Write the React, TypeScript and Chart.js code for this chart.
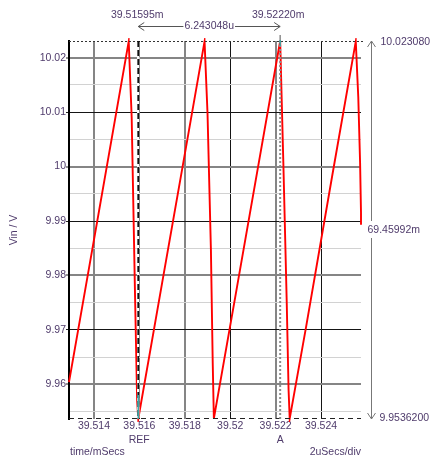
import React, { useEffect, useRef } from 'react';
import { Chart, registerables } from 'chart.js';

Chart.register(...registerables);

// ---- data (time in ms, Vin in V) ----
const timeMs = [
  39.5129, 39.5142, 39.51553, 39.51566, 39.51581, 39.5159, 39.51595,
  39.517, 39.518, 39.51887, 39.519, 39.51915, 39.51923, 39.51928,
  39.5203, 39.5213, 39.5222, 39.52234, 39.52249, 39.52257, 39.52262,
  39.52334, 39.5245, 39.52553, 39.52564, 39.52572, 39.52576, 39.52576,
];
const vin = [
  9.9604, 9.9913, 10.0230, 10.0091, 9.9760, 9.9571, 9.95362,
  9.9786, 10.0023, 10.0230, 10.0099, 9.9847, 9.9639, 9.9537,
  9.9779, 10.0017, 10.02308, 10.0007, 9.9749, 9.9590, 9.9537,
  9.9705, 9.9985, 10.0230, 10.0128, 10.0007, 9.9915, 9.9893,
];

const xRange = [39.5129, 39.52576];
const yRange = [9.95362, 10.02308];

const xTickValues = [39.514, 39.516, 39.518, 39.52, 39.522, 39.524];
const xTickLabels = ['39.514', '39.516', '39.518', '39.52', '39.522', '39.524'];
const yMajorValues = [9.96, 9.97, 9.98, 9.99, 10, 10.01, 10.02];
const yMajorLabels = ['9.96', '9.97', '9.98', '9.99', '10', '10.01', '10.02'];
const yMinorValues = [9.955, 9.965, 9.975, 9.985, 9.995, 10.005, 10.015];

const cursorRefTime = 39.51595;
const cursorATime = 39.5222;
const cursorAValue = 10.02308;
const cursorRefValue = 9.95362;

const refTimeLabel = '39.51595m';
const aTimeLabel = '39.52220m';
const deltaTimeLabel = '6.243048u';
const topValueLabel = '10.023080';
const bottomValueLabel = '9.9536200';
const deltaValueLabel = '69.45992m';
const refName = 'REF';
const aName = 'A';
const xTitle = 'time/mSecs';
const xDivLabel = '2uSecs/div';
const yTitle = 'Vin / V';

const TEXT = '#4f3b6b';
const FONT = 'Liberation Sans, Arial, sans-serif';
const GREY = '#858585';
const BLACK = '#151515';
const LIGHT = '#d2d2d2';

const near = (a: number, b: number) => Math.abs(a - b) < 1e-6;
const isMajorY = (v: number) => yMajorValues.some((m) => near(m, v));
const yTickValues = [...yMinorValues, ...yMajorValues].sort((a, b) => a - b);

function arrowHead(ctx: CanvasRenderingContext2D, x: number, y: number, dx: number, dy: number) {
  const len = 6, w = 4;
  const px = -dy, py = dx;
  ctx.beginPath();
  ctx.moveTo(x - dx * len + px * w, y - dy * len + py * w);
  ctx.lineTo(x, y);
  ctx.lineTo(x - dx * len - px * w, y - dy * len - py * w);
  ctx.stroke();
}

const annotations = {
  id: 'annotations',
  afterDatasetsDraw(chart: any) {
    const { ctx, chartArea, scales } = chart;
    const xs = scales.x, ys = scales.y;
    const xRef = xs.getPixelForValue(cursorRefTime);
    const xA = xs.getPixelForValue(cursorATime);
    const yTop = ys.getPixelForValue(cursorAValue);
    const yBot = ys.getPixelForValue(cursorRefValue);
    ctx.save();

    // top dotted level line
    ctx.strokeStyle = '#333';
    ctx.lineWidth = 1;
    ctx.setLineDash([2, 2]);
    ctx.beginPath();
    ctx.moveTo(chartArea.left, Math.round(yTop) + 0.5);
    ctx.lineTo(chartArea.right + 2, Math.round(yTop) + 0.5);
    ctx.stroke();

    // bottom dashed level line
    ctx.strokeStyle = '#222';
    ctx.setLineDash([5, 4]);
    ctx.beginPath();
    ctx.moveTo(chartArea.left, Math.round(yBot) - 0.5);
    ctx.lineTo(chartArea.right, Math.round(yBot) - 0.5);
    ctx.stroke();

    // REF cursor (dashed, white gaps)
    ctx.setLineDash([]);
    ctx.strokeStyle = '#ffffff';
    ctx.lineWidth = 2.5;
    ctx.beginPath();
    ctx.moveTo(xRef, yTop + 1);
    ctx.lineTo(xRef, yBot - 1);
    ctx.stroke();
    ctx.strokeStyle = '#111';
    ctx.lineWidth = 1.8;
    ctx.setLineDash([6, 3]);
    ctx.beginPath();
    ctx.moveTo(xRef, yTop);
    ctx.lineTo(xRef, yBot);
    ctx.stroke();

    // A cursor (dotted grey)
    ctx.strokeStyle = '#8c8c8c';
    ctx.lineWidth = 2;
    ctx.setLineDash([2, 2]);
    ctx.beginPath();
    ctx.moveTo(xA, yTop);
    ctx.lineTo(xA, yBot);
    ctx.stroke();
    ctx.setLineDash([]);
    ctx.lineWidth = 1.5;
    ctx.beginPath();
    ctx.moveTo(xA, yTop - 6);
    ctx.lineTo(xA, yTop);
    ctx.stroke();

    // cursor markers
    ctx.strokeStyle = '#3aa6a6';
    ctx.lineWidth = 1.5;
    ctx.beginPath();
    ctx.moveTo(xRef, yBot - 24);
    ctx.lineTo(xRef, yBot);
    ctx.stroke();
    ctx.beginPath();
    ctx.moveTo(xA, yTop - 1);
    ctx.lineTo(xA, yTop + 5);
    ctx.stroke();

    // texts
    ctx.fillStyle = TEXT;
    ctx.font = `10.5px ${FONT}`;
    ctx.textBaseline = 'middle';
    ctx.textAlign = 'center';
    ctx.fillText(refTimeLabel, xRef - 1, 15);
    ctx.fillText(aTimeLabel, xA - 2, 15);

    // delta arrow
    const yArr = 26;
    const mid = (xRef + xA) / 2;
    const tw = ctx.measureText(deltaTimeLabel).width;
    ctx.fillText(deltaTimeLabel, mid, yArr);
    ctx.strokeStyle = '#555';
    ctx.lineWidth = 1;
    ctx.beginPath();
    ctx.moveTo(xRef, yArr + 0.5);
    ctx.lineTo(mid - tw / 2 - 1, yArr + 0.5);
    ctx.moveTo(mid + tw / 2 + 1, yArr + 0.5);
    ctx.lineTo(xA, yArr + 0.5);
    ctx.stroke();
    arrowHead(ctx, xRef, yArr + 0.5, -1, 0);
    arrowHead(ctx, xA, yArr + 0.5, 1, 0);

    // right vertical arrow
    const xR = chartArea.right + 10.5;
    const yMid = (yTop + yBot) / 2;
    ctx.strokeStyle = '#777';
    ctx.beginPath();
    ctx.moveTo(xR, yTop);
    ctx.lineTo(xR, yMid - 9);
    ctx.moveTo(xR, yMid + 8);
    ctx.lineTo(xR, yBot);
    ctx.stroke();
    arrowHead(ctx, xR, yTop, 0, -1);
    arrowHead(ctx, xR, yBot, 0, 1);

    ctx.textAlign = 'left';
    ctx.fillStyle = TEXT;
    ctx.fillText(topValueLabel, xR + 9, yTop + 1);
    ctx.fillText(deltaValueLabel, xR - 4, yMid);
    ctx.fillText(bottomValueLabel, xR + 8, yBot - 1);

    // bottom labels
    ctx.textAlign = 'center';
    ctx.fillText(refName, xRef + 1, 440);
    ctx.fillText(aName, xA, 440);
    ctx.textAlign = 'left';
    ctx.fillText(xTitle, chartArea.left + 1, 452);
    ctx.textAlign = 'right';
    ctx.fillText(xDivLabel, chartArea.right, 452);

    // y title
    ctx.save();
    ctx.translate(14, (chartArea.top + chartArea.bottom) / 2);
    ctx.rotate(-Math.PI / 2);
    ctx.textAlign = 'center';
    ctx.fillText(yTitle, 0, 0);
    ctx.restore();

    ctx.restore();
  },
};

export default function App() {
  const ref = useRef<HTMLCanvasElement>(null);
  useEffect(() => {
    const canvas = ref.current!;
    const chart = new Chart(canvas, {
      type: 'line',
      data: {
        datasets: [
          {
            data: timeMs.map((t, i) => ({ x: t, y: vin[i] })),
            borderColor: '#ff0000',
            borderWidth: 1.9,
            pointRadius: 0,
            tension: 0,
            clip: 3,
          } as any,
        ],
      },
      options: {
        responsive: false,
        animation: false,
        events: [],
        layout: { padding: { left: 0, right: 69, top: 41, bottom: 0 } },
        plugins: { legend: { display: false }, tooltip: { enabled: false } },
        scales: {
          x: {
            type: 'linear',
            min: xRange[0],
            max: xRange[1],
            afterBuildTicks: (s: any) => {
              s.ticks = xTickValues.map((v) => ({ value: v }));
            },
            afterFit: (s: any) => {
              s.height = 38;
            },
            ticks: {
              autoSkip: false,
              maxRotation: 0,
              padding: 1,
              color: TEXT,
              font: { family: FONT, size: 10.5 },
              callback: (v: any) => {
                const i = xTickValues.findIndex((t) => near(t, Number(v)));
                return i >= 0 ? xTickLabels[i] : '';
              },
            },
            grid: {
              drawTicks: false,
              color: (c: any) => (c.index % 2 === 0 ? GREY : BLACK),
              lineWidth: (c: any) => (c.index % 2 === 0 ? 2 : 1),
            },
            border: { display: false },
          },
          y: {
            type: 'linear',
            min: yRange[0],
            max: yRange[1],
            afterBuildTicks: (s: any) => {
              s.ticks = yTickValues.map((v) => ({ value: v }));
            },
            afterFit: (s: any) => {
              s.width = 69;
            },
            ticks: {
              autoSkip: false,
              padding: 0,
              color: TEXT,
              font: { family: FONT, size: 10.5 },
              callback: (v: any) => {
                const i = yMajorValues.findIndex((t) => near(t, Number(v)));
                return i >= 0 ? yMajorLabels[i] : '';
              },
            },
            grid: {
              tickLength: 3,
              tickWidth: 1,
              tickColor: (c: any) => (c.tick && isMajorY(c.tick.value) ? '#222' : 'rgba(0,0,0,0)'),
              color: (c: any) => {
                const v = c.tick ? c.tick.value : 0;
                if (!isMajorY(v)) return LIGHT;
                return Math.round(v * 100) % 2 === 0 ? GREY : BLACK;
              },
              lineWidth: (c: any) => {
                const v = c.tick ? c.tick.value : 0;
                if (!isMajorY(v)) return 1;
                return Math.round(v * 100) % 2 === 0 ? 2 : 1;
              },
            },
            border: { display: true, color: '#000', width: 2 },
          },
        },
      },
      plugins: [annotations],
    } as any);
    return () => chart.destroy();
  }, []);
  return (
    <div style={{ position: 'fixed', left: 0, top: 0, width: 430, height: 457, background: '#fff' }}>
      <canvas ref={ref} width={430} height={457} style={{ display: 'block', width: 430, height: 457 }} />
    </div>
  );
}
